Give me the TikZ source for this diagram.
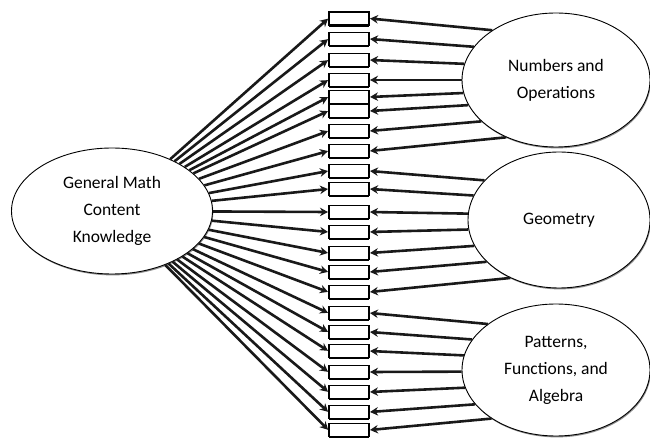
\documentclass[tikz,border=0pt]{standalone}
\usepackage{fontspec}
\setmainfont{Carlito}
\usetikzlibrary{shapes.geometric,arrows.meta,shadows}
\begin{document}
\begin{tikzpicture}[x=1pt,y=-1pt,
  itembox/.style={draw=black,line width=1.4pt,fill=white,rectangle,minimum width=40pt,minimum height=13pt,inner sep=0pt,
    drop shadow={shadow xshift=0.4pt,shadow yshift=-1.8pt,fill=black,opacity=1}},
  oval/.style={ellipse,draw=black,line width=0.9pt,fill=white,inner sep=0pt,align=center,
    font=\fontsize{17.5}{27}\selectfont,
    drop shadow={shadow xshift=0.8pt,shadow yshift=-1.4pt,fill=black!45,opacity=1}},
  arr/.style={line width=2.6pt,draw=black!90,-{Stealth[length=8pt,width=8.5pt]},shorten >=0.3pt}]
\useasboundingbox (0,0) rectangle (650,443);
\clip (0,0) rectangle (650,443);
\node[oval,minimum width=201pt,minimum height=126pt] (gm) at (112,211) {General Math\\Content\\Knowledge};
\node[oval,minimum width=188pt,minimum height=134pt] (num) at (556,80) {Numbers and\\Operations};
\node[oval,minimum width=182pt,minimum height=136pt] (geo) at (559,220) {Geometry};
\node[oval,minimum width=188pt,minimum height=132pt] (pfa) at (556,370) {Patterns,\\Functions, and\\Algebra};
\foreach \i/\yy in {1/18.5,2/39,3/60,4/80,5/97,6/111,7/131,8/151,9/171,10/189,11/212,12/232,13/253,14/272,15/292,16/313,17/332,18/351,19/372,20/392,21/412,22/430}{
  \node[itembox] (b\i) at (349,\yy) {};
}
\foreach \i in {1,...,22}{\draw[arr] (gm) -- (b\i.west);}
\foreach \nm/\cy/\rx/\ry/\list in {num/80/94/67/{1/18.5,2/39,3/60,4/80,5/97,6/111,7/131,8/151},
    geo/220/91/68/{9/171,10/189,11/212,12/232,13/253,14/272,15/292},
    pfa/370/94/66/{16/313,17/332,18/351,19/372,20/392,21/412,22/430}}{
  \foreach \i/\yy in \list {
    \pgfmathsetmacro\ys{\cy+(\yy-\cy)*0.8}
    \pgfmathtruncatemacro\th{round(atan2(\cy-\ys,-\rx*sqrt(1-((\ys-\cy)/\ry)^2)))}
    \draw[arr] (\nm.\th) -- (b\i.east);
  }
}
\end{tikzpicture}
\end{document}
